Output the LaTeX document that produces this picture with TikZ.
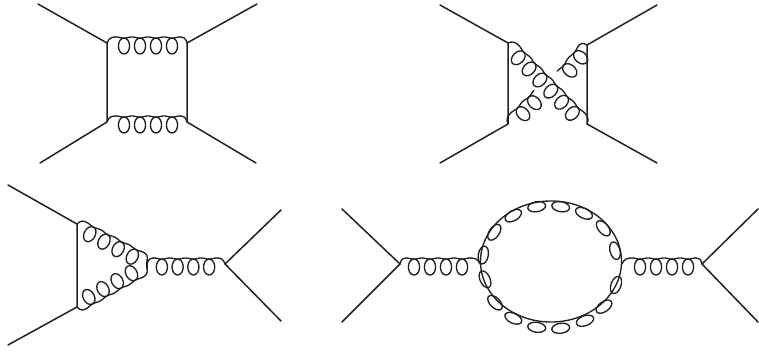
\documentclass[tikz,border=0pt]{standalone}
\usetikzlibrary{calc}
\definecolor{ink}{HTML}{222222}
\tikzset{
  fermion/.style={draw=ink,line width=1.5pt,line cap=round,line join=round},
  gl/.style={draw=ink,line width=1.35pt,line cap=round,line join=round},
  looplet/.style={draw=ink,line width=1.35pt},
}
% \gluon{from}{to}{loops}{lead-in}{lead-out}: loops lie to the right of the travel direction
\newcommand\gluon[5]{%
  \path let \p1=(#1),\p2=(#2),\n1={atan2(\y2-\y1,\x2-\x1)},\n2={veclen(\x2-\x1,\y2-\y1)} in
    \pgfextra{\pgfmathsetmacro\gtmpa{\n1}\pgfmathsetmacro\gtmpb{\n2}\global\let\gangle\gtmpa\global\let\glen\gtmpb};
  \pgfmathsetmacro\gp{(\glen-#4-#5)/#3}
  \pgfmathtruncatemacro\gs{18*#3+1}
  \begin{scope}[shift={(#1)},rotate=\gangle]
    \draw[gl] plot[variable=\t,domain=0:360*#3,samples=\gs]
      ({#4+\gp*(\t/360)},{-6+1.1*(1-cos(\t))/2});
    \foreach \i in {1,...,#3}{
      \pgfmathsetmacro\gu{#4+\gp*(\i-0.5)}
      \draw[gl] (\gu,3) ellipse (5.6 and 8);
    }
    \ifdim#4pt>0pt
      \draw[gl] (0,0) .. controls (0.2*#4,-5) and (0.5*#4,-6) .. (#4,-6);
    \fi
    \ifdim#5pt>0pt
      \draw[gl] (\glen,0) .. controls (\glen-0.2*#5,-5) and (\glen-0.5*#5,-6) .. (\glen-#5,-6);
    \fi
  \end{scope}}
\newcommand\looplet[3]{\draw[looplet,shift={(#1,#2)},rotate=#3] (0,0) ellipse (9 and 5);}
\begin{document}
\begin{tikzpicture}[x=1pt,y=-1pt]
\fill[white] (0,0) rectangle (759,352);
\useasboundingbox (0,0) rectangle (759,352);
% box
\coordinate (a1) at (38,4);   \coordinate (a2) at (257,4);
\coordinate (a3) at (40,163); \coordinate (a4) at (256,163);
\coordinate (au) at (107,43); \coordinate (av) at (187,43);
\coordinate (aw) at (107,122);\coordinate (ax) at (187,122);
\draw[fermion] (a1)--(au)--(aw)--(a3);
\draw[fermion] (a2)--(av)--(ax)--(a4);
\gluon{au}{av}{4}{9}{7}
\gluon{aw}{ax}{4}{9}{7}
% crossed box
\coordinate (b1) at (440,5);   \coordinate (b2) at (657,5);
\coordinate (b3) at (440,163); \coordinate (b4) at (657,163);
\coordinate (bu) at (508,43);  \coordinate (bv) at (587,45);
\coordinate (bw) at (508,124); \coordinate (bx) at (587,124);
\coordinate (bf) at (538,95);  \coordinate (bg) at (562,75);
\draw[fermion] (b1)--(bu)--(bw)--(b3);
\draw[fermion] (b2)--(bv)--(bx)--(b4);
\gluon{bu}{bx}{6}{10}{10}
\gluon{bw}{bf}{2}{10}{0}
\gluon{bg}{bv}{2}{0}{5}
% triangle
\coordinate (c1) at (8,185);   \coordinate (c2) at (8,345);
\coordinate (cu) at (77,224);  \coordinate (cw) at (77,307);
\coordinate (cp) at (147,261); \coordinate (cq) at (147,268);
\coordinate (ca) at (147,264); \coordinate (cv) at (225,264);
\coordinate (c3) at (281,210); \coordinate (c4) at (281,321);
\draw[fermion] (c1)--(cu)--(cw)--(c2);
\draw[fermion] (c3)--(cv)--(c4);
\gluon{cu}{cp}{4}{8}{7}
\gluon{cq}{cw}{4}{8}{7}
\gluon{ca}{cv}{4}{7}{8}
\draw[gl] (cp)--(cq);
% bubble
\coordinate (d1) at (342,209); \coordinate (d2) at (342,322);
\coordinate (du) at (400,264); \coordinate (dl) at (480,264);
\coordinate (dr) at (622,264); \coordinate (dv) at (702,264);
\coordinate (d3) at (758,209); \coordinate (d4) at (758,322);
\coordinate (dc) at (551,261.5);
\draw[fermion] (d1)--(du)--(d2);
\draw[fermion] (d3)--(dv)--(d4);
\gluon{du}{dl}{4}{6}{10}
\gluon{dr}{dv}{4}{10}{6}
\draw[gl] (dc) ellipse (70.5 and 60.5);
\looplet{483.3}{255}{80}
\looplet{494.3}{232.3}{55}
\looplet{513.3}{215.7}{30}
\looplet{536.7}{206.7}{10}
\looplet{560.7}{206.7}{-10}
\looplet{584}{213.3}{-25}
\looplet{603.3}{228.3}{-50}
\looplet{615}{250.7}{-75}
\looplet{485}{279.3}{-65}
\looplet{495}{302.7}{-45}
\looplet{513.3}{318.3}{-25}
\looplet{536.7}{327.3}{-8}
\looplet{560.7}{328.3}{8}
\looplet{585}{320.7}{20}
\looplet{604}{306.7}{35}
\looplet{616}{285}{70}
\end{tikzpicture}
\end{document}
